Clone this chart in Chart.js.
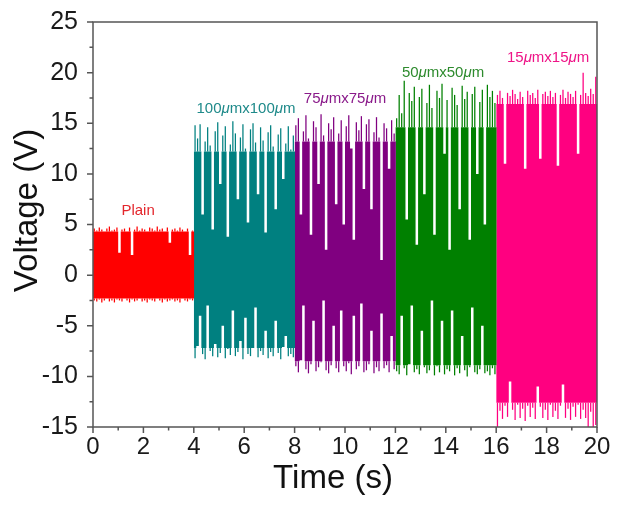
<!DOCTYPE html>
<html>
<head>
<meta charset="utf-8">
<script src="https://cdn.jsdelivr.net/npm/chart.js@4.4.0/dist/chart.umd.min.js"></script>
<style>
  html, body { margin: 0; padding: 0; background: #fff; }
</style>
</head>
<body>
<canvas id="chart" width="622" height="511"></canvas>
<script>
// Segment names, start times (s) and colours
const segmentNames = ['Plain', '100μmx100μm', '75μmx75μm', '50μmx50μm', '15μmx15μm'];
const segmentStarts = [0, 4, 8, 12, 16];
const segmentLength = 4;

// Peak values (V), 40 pulses per segment
const plainHigh = [4.6,4.4,4.7,4.5,4.3,4.6,4.8,4.4,4.5,4.7, 2.2,4.5,4.6,4.3,4.7,2.0,4.5,4.8,4.4,4.6,
                   4.5,4.3,4.7,4.6,4.4,4.8,4.5,4.6,4.3,4.7, 3.2,4.5,4.6,4.4,4.7,4.5,4.3,4.6,2.0,4.4];
const plainLow  = [-2.5,-2.6,-2.4,-2.7,-2.5,-2.3,-2.6,-2.5,-2.7,-2.4, -2.5,-2.6,-2.3,-2.5,-2.7,-2.4,-2.6,-2.5,-2.3,-2.6,
                   -2.5,-2.7,-2.4,-2.5,-2.6,-2.3,-2.5,-2.7,-2.4,-2.6, -2.5,-2.4,-2.6,-2.5,-2.7,-2.3,-2.5,-2.6,-2.4,-2.5];

const s100High = [14.8,13.5,14.9,6.0,13.2,14.6,12.8,4.5,14.2,15.1, 9.0,13.8,14.7,3.8,12.9,15.2,14.0,7.5,13.6,14.9,
                  12.5,5.2,14.4,15.0,13.1,8.0,14.6,13.3,4.2,14.1, 14.8,12.7,6.5,13.9,14.5,9.5,13.0,14.7,12.4,13.8];
const s100Low  = [-8.2,-7.0,-4.0,-7.8,-8.3,-3.0,-7.5,-8.0,-6.8,-8.1, -7.7,-5.0,-8.2,-7.3,-7.9,-3.5,-8.0,-7.6,-6.5,-8.3,
                  -4.2,-7.8,-8.0,-7.2,-3.2,-8.1,-7.5,-7.9,-5.5,-8.2, -7.6,-8.0,-4.5,-7.7,-8.3,-7.1,-6.0,-8.0,-7.8,-8.1];

const s75High = [14.8,15.5,6.0,14.2,15.8,13.5,4.0,15.2,14.6,9.0, 15.9,13.8,2.5,15.0,14.4,15.6,7.0,14.0,15.3,5.0,
                 14.7,15.8,12.5,3.5,15.1,14.3,15.7,8.5,14.9,15.4, 6.5,14.1,15.6,13.6,1.5,15.0,14.5,10.5,15.3,14.0];
const s75Low  = [-9.0,-9.6,-8.4,-3.0,-9.3,-9.7,-8.8,-4.5,-9.5,-9.1, -8.6,-2.5,-9.4,-9.7,-8.9,-5.0,-9.2,-9.6,-3.5,-9.0,
                 -9.5,-8.7,-9.8,-4.0,-9.3,-9.0,-2.8,-9.6,-9.4,-8.8, -5.5,-9.7,-9.1,-9.5,-3.8,-9.2,-8.9,-9.6,-6.0,-9.3];

const s50High = [15.5,17.8,16.0,19.2,5.5,18.0,17.2,18.6,3.0,17.6, 18.4,8.0,17.0,18.8,16.5,4.0,18.2,17.5,18.9,12.0,
                 17.3,2.5,18.5,17.8,16.8,6.5,18.7,17.4,18.1,3.5, 17.9,18.6,10.0,17.1,18.3,5.0,18.8,17.6,18.2,17.0];
const s50Low  = [-9.5,-9.8,-4.0,-9.2,-9.9,-8.8,-3.0,-9.6,-9.3,-9.8, -5.5,-9.1,-9.7,-9.4,-2.5,-9.9,-9.0,-9.6,-4.5,-9.8,
                 -9.3,-9.5,-3.5,-9.9,-9.2,-9.7,-6.0,-9.4,-10.0,-9.1, -3.2,-9.6,-9.8,-9.3,-5.0,-9.7,-9.5,-9.9,-9.2,-9.8];

const s15High = [17.8,18.2,17.5,11.0,18.0,17.7,18.3,17.9,17.4,18.1, 17.6,10.5,18.2,17.8,18.0,17.5,18.3,11.5,17.9,18.1,
                 17.7,18.2,17.6,18.0,10.8,17.8,18.3,17.5,18.1,17.9, 17.6,18.2,12.0,17.8,20.0,18.0,17.7,18.4,17.9,19.6];
const s15Low  = [-15.0,-13.4,-14.2,-12.9,-14.0,-10.5,-13.3,-14.3,-12.8,-14.1, -13.2,-14.4,-12.9,-14.0,-13.1,-14.2,-11.0,-13.0,-14.1,-13.3,
                 -14.3,-12.8,-14.0,-13.4,-14.2,-12.9,-10.8,-14.1,-13.2,-14.3, -13.0,-14.0,-12.8,-14.2,-13.3,-14.1,-15.0,-13.5,-15.0,-14.8];

const segmentHighs = [plainHigh, s100High, s75High, s50High, s15High];
const segmentLows = [plainLow, s100Low, s75Low, s50Low, s15Low];
// level (V) up to / down to which each block looks solid
const coreTop = [4.3, 12.2, 13.2, 14.6, 16.9];
const coreBottom = [-2.3, -7.2, -8.5, -8.9, -12.6];

const segmentColors = ['#ff0000', '#008080', '#800080', '#008000', '#ff0080'];
const labelColors = ['#e3262c', '#1f8a8a', '#8a1a8a', '#2e8b2e', '#ee1487'];
// label anchor in data units (centre of text)
const labelAnchors = [[1.79, 6.3], [6.07, 16.4], [10.0, 17.4], [13.89, 20.0], [18.06, 21.5]];

// Y and X axis ranges
const yMin = -15, yMax = 25, yStep = 5;
const xMin = 0, xMax = 20, xStep = 2;

const FONT = '"Liberation Sans", Arial, sans-serif';

function pulseWidth(k) {
    return segmentLength / segmentHighs[k].length;
}

// stepped outline of the solid band (top or bottom edge), one step per pulse
function coreEdge(k, top) {
    const dt = pulseWidth(k);
    const pts = segmentHighs[k].map((h, i) => ({
        x: segmentStarts[k] + i * dt,
        y: top ? Math.min(h, coreTop[k]) : Math.max(segmentLows[k][i], coreBottom[k])
    }));
    // close the last step; tiny overlap so neighbouring blocks leave no seam
    pts.push({ x: segmentStarts[k] + segmentLength + 0.02, y: pts[pts.length - 1].y });
    return pts;
}

// thin spikes above / below the solid band
function topSpikes(k) {
    const dt = pulseWidth(k);
    return segmentHighs[k].map((h, i) => ({
        x: segmentStarts[k] + (i + 0.5) * dt, y: h > coreTop[k] ? [coreTop[k], h] : null
    }));
}
function bottomSpikes(k) {
    const dt = pulseWidth(k);
    return segmentLows[k].map((l, i) => ({
        x: segmentStarts[k] + (i + 0.5) * dt, y: l < coreBottom[k] ? [l, coreBottom[k]] : null
    }));
}

const edgeBase = { type: 'line', stepped: true, pointRadius: 0, borderWidth: 1, borderColor: 'rgba(0,0,0,0)' };
const spikeBase = { type: 'bar', borderWidth: 0, grouped: false, categoryPercentage: 1, barPercentage: 0.5 };
const datasets = [];
segmentNames.forEach((name, k) => {
    datasets.push({ ...edgeBase, label: name, data: coreEdge(k, true), backgroundColor: segmentColors[k], fill: '+1' });
    datasets.push({ ...edgeBase, label: name + ' base', data: coreEdge(k, false), fill: false });
    datasets.push({ ...spikeBase, label: name + ' +', data: topSpikes(k), backgroundColor: segmentColors[k] });
    datasets.push({ ...spikeBase, label: name + ' -', data: bottomSpikes(k), backgroundColor: segmentColors[k] });
});

// draw text with italic μ
function drawMixed(ctx, text, cx, cy, size) {
    const parts = text.split(/(μ)/).filter(p => p.length);
    const fontOf = p => (p === 'μ' ? 'italic ' : '') + size + 'px ' + FONT;
    let total = 0;
    parts.forEach(p => { ctx.font = fontOf(p); total += ctx.measureText(p).width; });
    let x = cx - total / 2;
    ctx.textAlign = 'left';
    ctx.textBaseline = 'middle';
    parts.forEach(p => {
        ctx.font = fontOf(p);
        ctx.fillText(p, x, cy);
        x += ctx.measureText(p).width;
    });
}

const framePlugin = {
    id: 'frame',
    afterDraw(chart) {
        const { ctx, chartArea: a, scales: { x, y } } = chart;
        ctx.save();
        ctx.strokeStyle = '#555';
        ctx.lineWidth = 1.5;
        ctx.strokeRect(a.left, a.top, a.right - a.left, a.bottom - a.top);

        // major / minor ticks, outward
        ctx.beginPath();
        for (let v = yMin; v <= yMax; v += yStep / 2) {
            const py = y.getPixelForValue(v);
            const len = (v - yMin) % yStep === 0 ? 6 : 3.5;
            ctx.moveTo(a.left - len, py);
            ctx.lineTo(a.left, py);
        }
        for (let t = xMin; t <= xMax; t += xStep / 2) {
            const px = x.getPixelForValue(t);
            const len = (t - xMin) % xStep === 0 ? 6 : 3.5;
            ctx.moveTo(px, a.bottom);
            ctx.lineTo(px, a.bottom + len);
        }
        ctx.stroke();

        // segment labels
        segmentNames.forEach((name, k) => {
            ctx.fillStyle = labelColors[k];
            const [lx, ly] = labelAnchors[k];
            drawMixed(ctx, name, x.getPixelForValue(lx), y.getPixelForValue(ly), 15);
        });

        // axis titles
        ctx.fillStyle = '#111';
        ctx.font = '33px ' + FONT;
        ctx.textAlign = 'center';
        ctx.textBaseline = 'alphabetic';
        ctx.fillText('Time (s)', (a.left + a.right) / 2 - 12, 488);
        ctx.translate(37, (a.top + a.bottom) / 2 - 14);
        ctx.rotate(-Math.PI / 2);
        ctx.fillText('Voltage (V)', 0, 0);
        ctx.restore();
    }
};

new Chart(document.getElementById('chart').getContext('2d'), {
    type: 'line',
    data: { datasets },
    plugins: [framePlugin],
    options: {
        responsive: false,
        animation: false,
        layout: { padding: { left: 0, right: 25, top: 20, bottom: 0 } },
        plugins: { legend: { display: false }, tooltip: { enabled: false } },
        scales: {
            x: {
                type: 'linear',
                offset: false,
                min: xMin, max: xMax,
                afterFit: s => { s.height = 84; },
                grid: { display: false },
                border: { display: false },
                ticks: { stepSize: xStep, color: '#1a1a1a', padding: -2, font: { family: FONT, size: 24 } }
            },
            y: {
                min: yMin, max: yMax,
                afterFit: s => { s.width = 93; },
                grid: { display: false },
                border: { display: false },
                ticks: { stepSize: yStep, color: '#1a1a1a', padding: 7, font: { family: FONT, size: 25 } }
            }
        }
    }
});
</script>
</body>
</html>
